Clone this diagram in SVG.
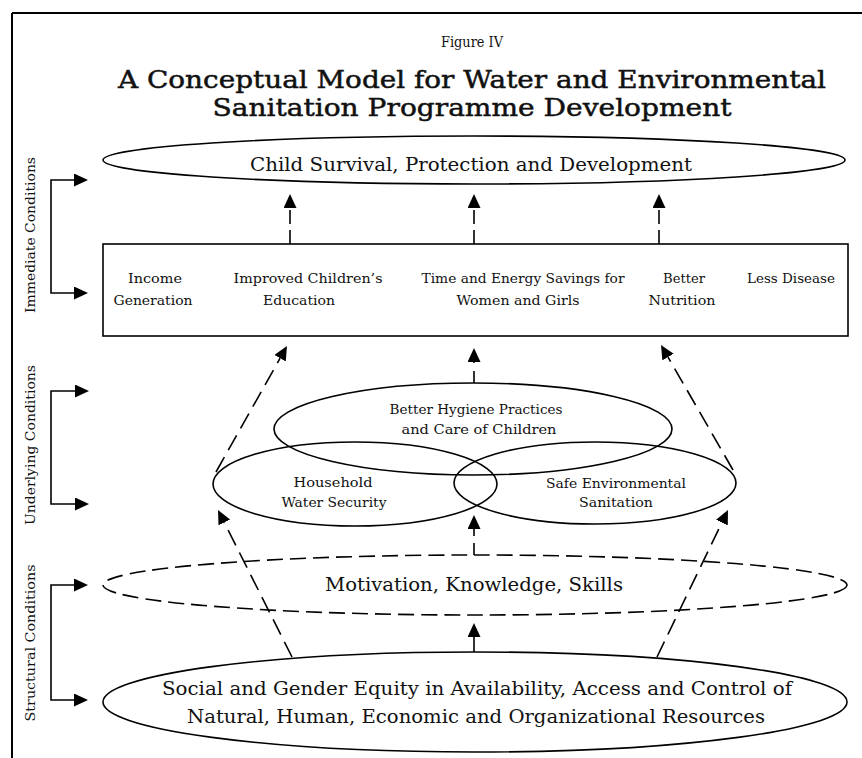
<svg xmlns="http://www.w3.org/2000/svg" width="862" height="758" viewBox="0 0 862 758">
<defs>
<marker id="ah" markerUnits="userSpaceOnUse" markerWidth="15" markerHeight="14" refX="0" refY="6.5" orient="auto">
<path d="M0,0 L14,6.5 L0,13 z" fill="#000"/>
</marker>
<style>
text{font-family:"DejaVu Serif","Liberation Serif",serif;fill:#111}
.t{font-size:13.5px;text-anchor:middle}
.m{font-size:13px;text-anchor:middle}
.big{font-size:19px;text-anchor:middle}
.side{font-size:13px;text-anchor:middle}
.shape{fill:none;stroke:#000;stroke-width:1.6}
.dash{stroke-dasharray:16,7}
.conn{fill:none;stroke:#000;stroke-width:1.6}
.cd{stroke-dasharray:17,8}
</style>
</defs>
<rect width="862" height="758" fill="#fff"/>
<path d="M12,13 H862 M12,13 V758" stroke="#000" stroke-width="2" fill="none"/>

<text x="472" y="47" style="font-size:14px;text-anchor:middle" textLength="62" lengthAdjust="spacingAndGlyphs">Figure IV</text>
<text x="472" y="88" style="font-size:25px;text-anchor:middle;stroke:#111;stroke-width:0.5" textLength="708" lengthAdjust="spacingAndGlyphs">A Conceptual Model for Water and Environmental</text>
<text x="472" y="116" style="font-size:25px;text-anchor:middle;stroke:#111;stroke-width:0.5" textLength="519" lengthAdjust="spacingAndGlyphs">Sanitation Programme Development</text>

<g id="side-labels">
<text class="side" transform="translate(35,235) rotate(-90)" textLength="156" lengthAdjust="spacingAndGlyphs">Immediate Conditions</text>
<text class="side" transform="translate(35,445) rotate(-90)" textLength="160" lengthAdjust="spacingAndGlyphs">Underlying Conditions</text>
<text class="side" transform="translate(35,643) rotate(-90)" textLength="157" lengthAdjust="spacingAndGlyphs">Structural Conditions</text>
</g>

<g id="child-survival">
<ellipse class="shape" cx="474" cy="160" rx="371" ry="24"/>
<text class="big" x="471" y="171" textLength="442" lengthAdjust="spacingAndGlyphs">Child Survival, Protection and Development</text>
</g>

<g id="outcomes-box">
<rect class="shape" x="103" y="244" width="745" height="92"/>
<text class="t" x="155" y="283" textLength="54" lengthAdjust="spacingAndGlyphs">Income</text>
<text class="t" x="153" y="305" textLength="79" lengthAdjust="spacingAndGlyphs">Generation</text>
<text class="t" x="308" y="283" textLength="149" lengthAdjust="spacingAndGlyphs">Improved Children’s</text>
<text class="t" x="299" y="305" textLength="72" lengthAdjust="spacingAndGlyphs">Education</text>
<text class="t" x="523" y="283" textLength="203" lengthAdjust="spacingAndGlyphs">Time and Energy Savings for</text>
<text class="t" x="518" y="305" textLength="123" lengthAdjust="spacingAndGlyphs">Women and Girls</text>
<text class="t" x="684" y="283" textLength="42" lengthAdjust="spacingAndGlyphs">Better</text>
<text class="t" x="682" y="305" textLength="67" lengthAdjust="spacingAndGlyphs">Nutrition</text>
<text class="t" x="791" y="283" textLength="88" lengthAdjust="spacingAndGlyphs">Less Disease</text>
</g>

<g id="hygiene">
<ellipse class="shape" cx="473" cy="429" rx="199" ry="46"/>
<text class="m" x="476" y="414" textLength="173" lengthAdjust="spacingAndGlyphs">Better Hygiene Practices</text>
<text class="m" x="479" y="434" textLength="155" lengthAdjust="spacingAndGlyphs">and Care of Children</text>
</g>

<g id="water-security">
<ellipse class="shape" cx="355" cy="484" rx="142" ry="42"/>
<text class="m" x="333" y="487" textLength="79" lengthAdjust="spacingAndGlyphs">Household</text>
<text class="m" x="334" y="507" textLength="105" lengthAdjust="spacingAndGlyphs">Water Security</text>
</g>

<g id="sanitation">
<ellipse class="shape" cx="595" cy="483" rx="141" ry="41"/>
<text class="m" x="616" y="488" textLength="140" lengthAdjust="spacingAndGlyphs">Safe Environmental</text>
<text class="m" x="616" y="507" textLength="74" lengthAdjust="spacingAndGlyphs">Sanitation</text>
</g>

<g id="motivation">
<ellipse class="shape dash" cx="475" cy="585" rx="372" ry="30"/>
<text class="big" x="474" y="591" style="font-size:18.5px" textLength="298" lengthAdjust="spacingAndGlyphs">Motivation, Knowledge, Skills</text>
</g>

<g id="equity">
<ellipse class="shape" cx="475" cy="702" rx="372" ry="50"/>
<text class="big" x="477" y="695" textLength="630" lengthAdjust="spacingAndGlyphs">Social and Gender Equity in Availability, Access and Control of</text>
<text class="big" x="476" y="723" textLength="578" lengthAdjust="spacingAndGlyphs">Natural, Human, Economic and Organizational Resources</text>
</g>

<g id="connectors">
<path class="conn" d="M51,237 V180 H74" marker-end="url(#ah)"/>
<path class="conn" d="M51,237 V293 H74" marker-end="url(#ah)"/>
<path class="conn" d="M51,447 V391 H75" marker-end="url(#ah)"/>
<path class="conn" d="M51,447 V504 H75" marker-end="url(#ah)"/>
<path class="conn" d="M51,642 V585 H74" marker-end="url(#ah)"/>
<path class="conn" d="M51,642 V700 H74" marker-end="url(#ah)"/>

<path class="conn" style="stroke-dasharray:14,6" d="M290,244 V208" marker-end="url(#ah)"/>
<path class="conn" style="stroke-dasharray:14,6" d="M474,244 V208" marker-end="url(#ah)"/>
<path class="conn" style="stroke-dasharray:14,6" d="M659,244 V208" marker-end="url(#ah)"/>

<path class="conn cd" d="M216,472 L280.1,358.2" marker-end="url(#ah)"/>
<path class="conn" style="stroke-dasharray:12,8" d="M474,383 V362" marker-end="url(#ah)"/>
<path class="conn cd" d="M733,470 L668,357.1" marker-end="url(#ah)"/>

<path class="conn cd" d="M292,657 L224.3,522.5" marker-end="url(#ah)"/>
<path class="conn" style="stroke-dasharray:12,7" d="M474,555 V529" marker-end="url(#ah)"/>
<path class="conn cd" d="M657,657 L721.9,522.6" marker-end="url(#ah)"/>

<path class="conn" d="M474,652 V637" marker-end="url(#ah)"/>
</g>
</svg>
